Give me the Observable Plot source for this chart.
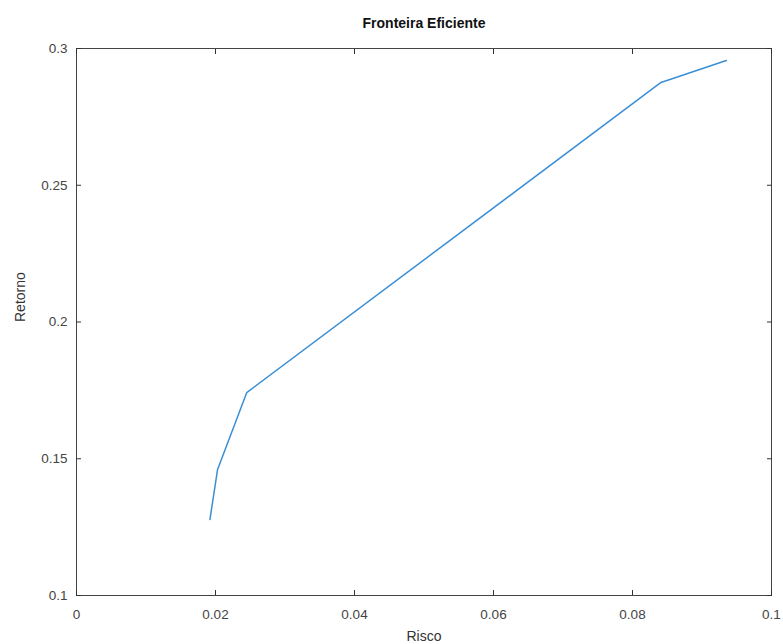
<!DOCTYPE html>
<html>
<head>
<meta charset="utf-8">
<script src="https://cdn.jsdelivr.net/npm/d3@7"></script>
<script src="https://cdn.jsdelivr.net/npm/@observablehq/plot@0.6"></script>
<style>
  html, body { margin: 0; padding: 0; background: #fff; }
</style>
</head>
<body>
<div id="chart"></div>
<script>
const risco = [0.0192, 0.0203, 0.0245, 0.0841, 0.0935];
const retorno = [0.1278, 0.1461, 0.1742, 0.2876, 0.2956];
const xTicks = [0, 0.02, 0.04, 0.06, 0.08, 0.1];
const yTicks = [0.1, 0.15, 0.2, 0.25, 0.3];
const titleText = "Fronteira Eficiente";
const xLabel = "Risco";
const yLabel = "Retorno";

const data = risco.map((r, i) => ({x: r, y: retorno[i]}));
const fmt = d3.format("~g");
const blank = () => "";

const chart = Plot.plot({
  width: 783,
  height: 644,
  marginLeft: 76,
  marginRight: 12,
  marginTop: 48,
  marginBottom: 49,
  style: {fontFamily: "'Liberation Sans', Arial, sans-serif", fontSize: "13.5px", color: "#333", background: "#fff"},
  x: {domain: [0, 0.1]},
  y: {domain: [0.1, 0.3]},
  marks: [
    Plot.frame({stroke: "#444", strokeWidth: 1}),
    Plot.axisX(xTicks, {anchor: "bottom", tickSize: -5, tickPadding: 19, tickFormat: fmt, label: null, stroke: "#333", fill: "#444"}),
    Plot.axisX(xTicks, {anchor: "top", tickSize: -5, tickFormat: blank, label: null, stroke: "#333"}),
    Plot.axisY(yTicks, {anchor: "left", tickSize: -5, tickPadding: 14, tickFormat: fmt, label: null, stroke: "#333", fill: "#444"}),
    Plot.axisY(yTicks, {anchor: "right", tickSize: -5, tickFormat: blank, label: null, stroke: "#333"}),
    Plot.line(data, {x: "x", y: "y", stroke: "#3a8fd4", strokeWidth: 1.5}),
    Plot.text([titleText], {frameAnchor: "top", dy: -30, fontWeight: "bold", fontSize: 14, fill: "#111"}),
    Plot.text([xLabel], {frameAnchor: "bottom", dy: 45, fontSize: 14, fill: "#333"}),
    Plot.text([yLabel], {frameAnchor: "left", dx: -56, rotate: -90, fontSize: 14, fill: "#333"})
  ]
});
document.getElementById("chart").appendChild(chart);
</script>
</body>
</html>
